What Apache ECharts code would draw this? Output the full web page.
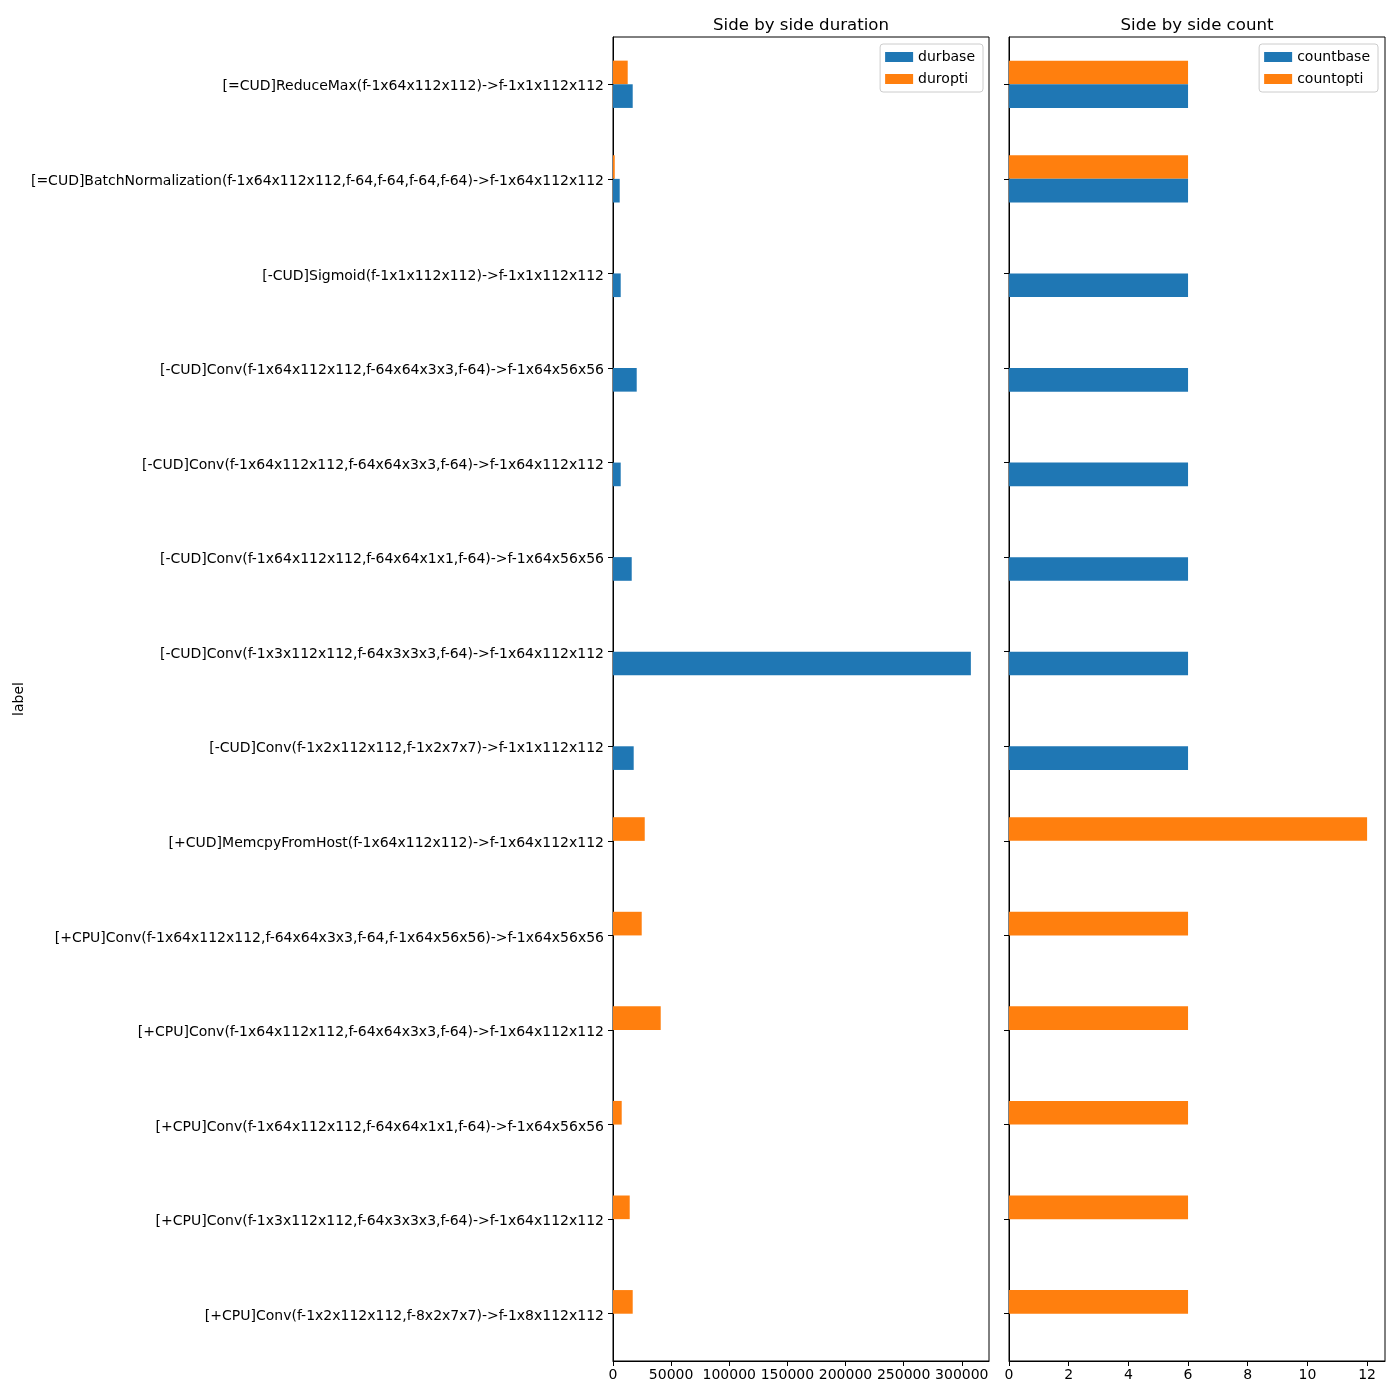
<!DOCTYPE html>
<html>
<head>
<meta charset="utf-8">
<script src="https://cdn.jsdelivr.net/npm/echarts@6/dist/echarts.min.js"></script>
<style>html,body{margin:0;padding:0;background:#fff;}#c{width:1400px;height:1400px;}</style>
</head>
<body>
<div id="c"></div>
<script>
// categories listed bottom-to-top
var categories = [
  "[+CPU]Conv(f-1x2x112x112,f-8x2x7x7)->f-1x8x112x112",
  "[+CPU]Conv(f-1x3x112x112,f-64x3x3x3,f-64)->f-1x64x112x112",
  "[+CPU]Conv(f-1x64x112x112,f-64x64x1x1,f-64)->f-1x64x56x56",
  "[+CPU]Conv(f-1x64x112x112,f-64x64x3x3,f-64)->f-1x64x112x112",
  "[+CPU]Conv(f-1x64x112x112,f-64x64x3x3,f-64,f-1x64x56x56)->f-1x64x56x56",
  "[+CUD]MemcpyFromHost(f-1x64x112x112)->f-1x64x112x112",
  "[-CUD]Conv(f-1x2x112x112,f-1x2x7x7)->f-1x1x112x112",
  "[-CUD]Conv(f-1x3x112x112,f-64x3x3x3,f-64)->f-1x64x112x112",
  "[-CUD]Conv(f-1x64x112x112,f-64x64x1x1,f-64)->f-1x64x56x56",
  "[-CUD]Conv(f-1x64x112x112,f-64x64x3x3,f-64)->f-1x64x112x112",
  "[-CUD]Conv(f-1x64x112x112,f-64x64x3x3,f-64)->f-1x64x56x56",
  "[-CUD]Sigmoid(f-1x1x112x112)->f-1x1x112x112",
  "[=CUD]BatchNormalization(f-1x64x112x112,f-64,f-64,f-64,f-64)->f-1x64x112x112",
  "[=CUD]ReduceMax(f-1x64x112x112)->f-1x1x112x112"
];
var durbase = [0, 0, 0, 0, 0, 0, 17800, 307800, 16100, 6630, 20400, 6630, 5770, 16950];
var duropti = [16950, 14370, 7490, 41050, 24700, 27300, 0, 0, 0, 0, 0, 0, 1500, 12650];
var countbase = [0, 0, 0, 0, 0, 0, 6, 6, 6, 6, 6, 6, 6, 6];
var countopti = [6, 6, 6, 6, 6, 12, 0, 0, 0, 0, 0, 0, 6, 6];
var durTicks = [0, 50000, 100000, 150000, 200000, 250000, 300000];
var countTicks = [0, 2, 4, 6, 8, 10, 12];

var BLUE = '#1f77b4', ORANGE = '#ff7f0e';
var FONT = 'DejaVu Sans';
var chart = echarts.init(document.getElementById('c'));

function xAxisFor(idx, maxV, ticks) {
  return {
    type: 'value', gridIndex: idx, min: 0, max: maxV,
    splitLine: {show: false},
    axisLine: {show: true, onZero: false, lineStyle: {color: '#000', width: 1}},
    axisTick: {show: true, length: 5, lineStyle: {color: '#000'}, customValues: ticks},
    axisLabel: {color: '#000', fontSize: 14, fontFamily: FONT, margin: 7, customValues: ticks,
                formatter: function (v) { return String(v); }}
  };
}
function yAxisFor(idx, showLabels) {
  var a = {
    type: 'category', gridIndex: idx, data: categories,
    axisLine: {show: true, lineStyle: {color: '#000', width: 1}},
    axisTick: {show: true, alignWithLabel: true, length: 5, lineStyle: {color: '#000'}},
    axisLabel: {show: showLabels, color: '#000', fontSize: 14, fontFamily: FONT, margin: 9,
                formatter: function (v) { return '{a|' + v + '}'; },
                rich: {a: {color: '#000', fontSize: 14, fontFamily: FONT, padding: [5, 0, 0, 0]}}},
    splitLine: {show: false}
  };
  if (showLabels) {
    a.name = 'label';
    a.nameLocation = 'middle';
    a.nameRotate = 90;
    a.nameGap = 587;
    a.nameTextStyle = {color: '#000', fontSize: 14, fontFamily: FONT};
  }
  return a;
}
var legendCommon = {
  orient: 'vertical', top: 44, itemWidth: 28, itemHeight: 10, itemGap: 8,
  icon: 'rect', borderColor: '#cccccc', borderWidth: 1, borderRadius: 3,
  padding: [6, 8, 6, 5], backgroundColor: 'rgba(255,255,255,0.8)',
  textStyle: {color: '#000', fontSize: 14, fontFamily: FONT}
};
function bar(name, data, color, xi, yi) {
  return {name: name, type: 'bar', xAxisIndex: xi, yAxisIndex: yi, data: data,
    barWidth: '25%', barGap: '0%', itemStyle: {color: color}, animation: false};
}

chart.setOption({
  animation: false,
  title: [
    {text: 'Side by side duration', left: 796, top: 12, textAlign: 'center',
     textStyle: {fontSize: 16.6, fontWeight: 'normal', color: '#000', fontFamily: FONT}},
    {text: 'Side by side count', left: 1192, top: 12, textAlign: 'center',
     textStyle: {fontSize: 16.6, fontWeight: 'normal', color: '#000', fontFamily: FONT}}
  ],
  grid: [
    {left: 613, top: 37, width: 376, height: 1324, show: true, borderColor: '#000', borderWidth: 1, containLabel: false},
    {left: 1009, top: 37, width: 376, height: 1324, show: true, borderColor: '#000', borderWidth: 1, containLabel: false}
  ],
  legend: [
    Object.assign({}, legendCommon, {right: 417, data: ['durbase', 'duropti']}),
    Object.assign({}, legendCommon, {right: 22, data: ['countbase', 'countopti']})
  ],
  xAxis: [xAxisFor(0, 323400, durTicks), xAxisFor(1, 12.6, countTicks)],
  yAxis: [yAxisFor(0, true), yAxisFor(1, false)],
  series: [
    bar('duropti', duropti, ORANGE, 0, 0),
    bar('durbase', durbase, BLUE, 0, 0),
    bar('countopti', countopti, ORANGE, 1, 1),
    bar('countbase', countbase, BLUE, 1, 1)
  ]
});
</script>
</body>
</html>
